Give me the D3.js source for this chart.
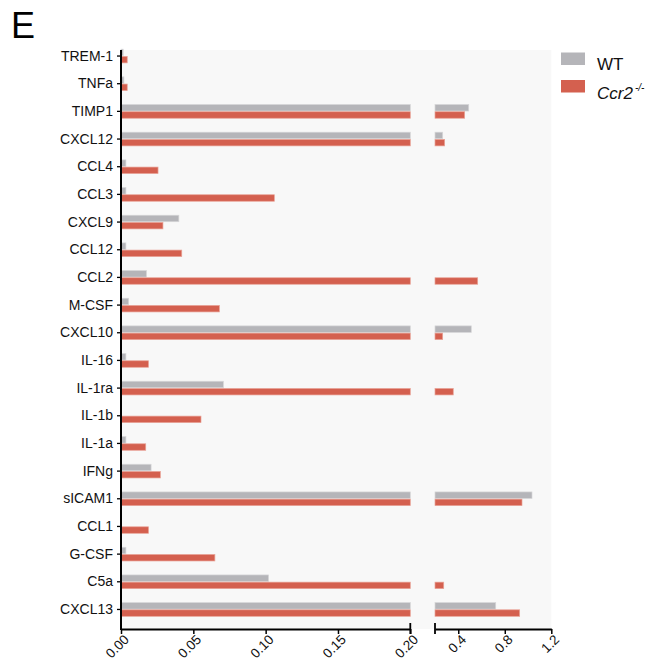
<!DOCTYPE html>
<html>
<head>
<meta charset="utf-8">
<script src="https://cdn.jsdelivr.net/npm/d3@7"></script>
<style>
  html, body { margin: 0; padding: 0; background: #fff; }
  svg { display: block; font-family: "Liberation Sans", Arial, sans-serif; }
</style>
</head>
<body>
<svg id="chart" width="659" height="668"></svg>
<script>
// Cytokine / chemokine levels, WT vs Ccr2-/-
const categories = ["TREM-1", "TNFa", "TIMP1", "CXCL12", "CCL4", "CCL3", "CXCL9", "CCL12", "CCL2",
  "M-CSF", "CXCL10", "IL-16", "IL-1ra", "IL-1b", "IL-1a", "IFNg", "sICAM1", "CCL1", "G-CSF", "C5a", "CXCL13"];
const wtValues = [0.0015, 0.002, 0.49, 0.266, 0.0034, 0.0034, 0.040, 0.0034, 0.0176,
  0.0053, 0.512, 0.0034, 0.0708, 0, 0.0034, 0.0208, 1.034, 0, 0.0034, 0.102, 0.722];
const koValues = [0.0043, 0.0043, 0.455, 0.283, 0.0256, 0.106, 0.029, 0.042, 0.567,
  0.068, 0.266, 0.019, 0.357, 0.0553, 0.0171, 0.0272, 0.948, 0.019, 0.0649, 0.275, 0.928];
const seriesNames = ["WT", "Ccr2"];
const leftTicks = [0, 0.05, 0.10, 0.15, 0.20];
const rightTicks = [0.4, 0.8, 1.2];

const COLORS = { WT: "#b5b5b9", KO: "#d4604f" };
const STROKES = { WT: "#d6d6d8", KO: "#e9a397" };

const svg = d3.select("#chart");

// Broken x axis: two linear segments
const breakAt = 0.2;
const xLeft = d3.scaleLinear().domain([0, breakAt]).range([121, 410.3]);
const xRight = d3.scaleLinear().domain([breakAt, 1.2]).range([435, 551.3]);
const y = d3.scaleBand().domain(categories).range([42.2, 623.3]).padding(0);

const plotTop = 50, plotBottom = 629;

// plot background
svg.append("rect")
  .attr("x", xLeft(0)).attr("y", plotTop)
  .attr("width", xRight(1.2) - xLeft(0)).attr("height", plotBottom - plotTop)
  .attr("fill", "#f8f8f8");

const barH = 6.5, gap = 0.35;
const rows = categories.map((c, i) => ({ cat: c, wt: wtValues[i], ko: koValues[i] }));

function drawSeries(key, color, stroke, offset) {
  const g = svg.append("g");
  rows.forEach(r => {
    const v = r[key];
    if (v <= 0) return;
    const cy = y(r.cat) + y.bandwidth() / 2;
    const y0 = offset < 0 ? cy - gap - barH : cy + gap;
    g.append("rect")
      .attr("x", xLeft(0)).attr("y", y0)
      .attr("width", xLeft(Math.min(v, breakAt)) - xLeft(0))
      .attr("height", barH)
      .attr("fill", color).attr("stroke", stroke).attr("stroke-width", 0.7);
    if (v > breakAt) {
      g.append("rect")
        .attr("x", xRight(breakAt)).attr("y", y0)
        .attr("width", xRight(v) - xRight(breakAt))
        .attr("height", barH)
        .attr("fill", color).attr("stroke", stroke).attr("stroke-width", 0.7);
    }
  });
}
drawSeries("wt", COLORS.WT, STROKES.WT, -1);
drawSeries("ko", COLORS.KO, STROKES.KO, 1);

// y axis
const yAxis = svg.append("g")
  .attr("transform", `translate(${xLeft(0)},0)`)
  .call(d3.axisLeft(y).tickSize(4).tickSizeOuter(0).tickPadding(4));
yAxis.select(".domain").remove();
yAxis.append("line").attr("x1", 0).attr("x2", 0).attr("y1", plotTop).attr("y2", plotBottom + 1)
  .attr("stroke", "#000").attr("stroke-width", 2);
yAxis.selectAll(".tick line").attr("stroke", "#000").attr("stroke-width", 1.3);
yAxis.selectAll(".tick text").attr("font-size", 14).attr("fill", "#111")
  .attr("font-family", "Liberation Sans, Arial, sans-serif");

// x axis tick styling: rotated labels
function styleX(g) {
  g.select(".domain").attr("stroke", "#000").attr("stroke-width", 2);
  g.selectAll(".tick line").attr("stroke", "#000").attr("stroke-width", 1.5);
  g.selectAll(".tick text")
    .attr("font-size", 13.5).attr("fill", "#111")
    .attr("font-family", "Liberation Sans, Arial, sans-serif")
    .attr("text-anchor", "end")
    .attr("y", 0).attr("dy", "0.35em").attr("dx", 0)
    .attr("transform", "translate(5,8) rotate(-45)");
}
const xAxisL = svg.append("g").attr("transform", `translate(0,${plotBottom})`)
  .call(d3.axisBottom(xLeft).tickValues(leftTicks).tickFormat(d3.format(".2f")).tickSize(5).tickSizeOuter(0));
styleX(xAxisL);
const xAxisR = svg.append("g").attr("transform", `translate(0,${plotBottom})`)
  .call(d3.axisBottom(xRight).tickValues(rightTicks).tickFormat(d3.format(".1f")).tickSize(5).tickSizeOuter(0));
styleX(xAxisR);

// break marks at both sides of the gap
[xLeft(breakAt), xRight(breakAt)].forEach(bx => {
  svg.append("line").attr("x1", bx).attr("x2", bx)
    .attr("y1", plotBottom - 6).attr("y2", plotBottom + 5)
    .attr("stroke", "#000").attr("stroke-width", 1.8);
});

// panel letter
svg.append("text").attr("x", 11).attr("y", 38)
  .attr("font-size", 36).attr("fill", "#000").text("E");

// legend
const legend = svg.append("g");
legend.append("rect").attr("x", 561).attr("y", 52.5).attr("width", 24).attr("height", 12.5).attr("fill", COLORS.WT);
legend.append("rect").attr("x", 561).attr("y", 80).attr("width", 24).attr("height", 12.5).attr("fill", COLORS.KO);
legend.append("text").attr("x", 597).attr("y", 70).attr("font-size", 17).attr("fill", "#111").text(seriesNames[0]);
const koText = legend.append("text").attr("x", 597).attr("y", 99).attr("font-size", 17).attr("fill", "#111")
  .attr("font-style", "italic");
koText.append("tspan").text(seriesNames[1]);
koText.append("tspan").attr("font-size", 10).attr("dx", 2).attr("dy", -8).text("-/-");
</script>
</body>
</html>
